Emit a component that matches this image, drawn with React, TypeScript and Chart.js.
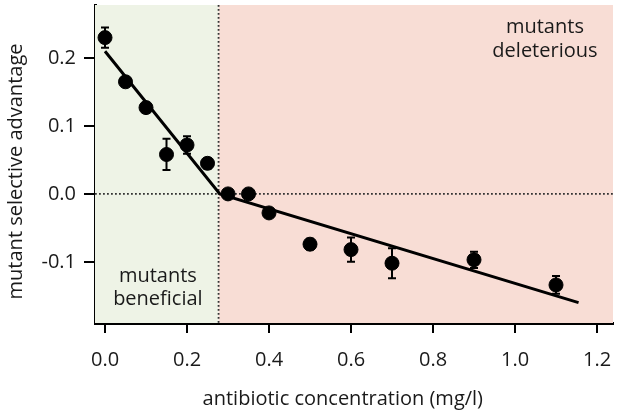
import { useEffect, useRef } from "react"
import { Chart, registerables } from "chart.js"

Chart.register(...registerables)

// measured concentrations (mg/l) and mutant selective advantage
const concentrations = [0.0, 0.05, 0.1, 0.15, 0.2, 0.25, 0.3, 0.35, 0.4, 0.5, 0.6, 0.7, 0.9, 1.1]
const advantage = [0.23, 0.165, 0.127, 0.058, 0.072, 0.045, 0.0, 0.0, -0.028, -0.074, -0.082, -0.102, -0.097, -0.134]
const errors = [0.015, 0.006, 0.004, 0.023, 0.013, 0.008, 0.004, 0.004, 0.006, 0.008, 0.018, 0.022, 0.012, 0.013]

// piecewise linear fit
const fitX = [0.0, 0.28, 1.155]
const fitY = [0.21, 0.0, -0.16]

const xTicks = [0.0, 0.2, 0.4, 0.6, 0.8, 1.0, 1.2]
const yTicks = [-0.1, 0.0, 0.1, 0.2]

const threshold = 0.277
const FONT_SIZE = 20
const FONT = `${FONT_SIZE}px 'Open Sans', sans-serif`

const regionsPlugin = {
  id: "regions",
  beforeDatasetsDraw(chart: Chart) {
    const { ctx, chartArea, scales } = chart
    const xb = scales.x.getPixelForValue(threshold)
    const y0 = scales.y.getPixelForValue(0)
    ctx.save()
    ctx.fillStyle = "#eef3e6"
    ctx.fillRect(chartArea.left, chartArea.top, xb - chartArea.left, chartArea.bottom - chartArea.top)
    ctx.fillStyle = "#f8ddd5"
    ctx.fillRect(xb, chartArea.top, chartArea.right - xb, chartArea.bottom - chartArea.top)

    ctx.strokeStyle = "#333"
    ctx.lineWidth = 1.8
    ctx.setLineDash([1.8, 2.2])
    ctx.beginPath()
    ctx.moveTo(chartArea.left, y0)
    ctx.lineTo(chartArea.right, y0)
    ctx.moveTo(xb, chartArea.top)
    ctx.lineTo(xb, chartArea.bottom)
    ctx.stroke()
    ctx.setLineDash([])

    // error bars
    ctx.strokeStyle = "#000"
    ctx.lineWidth = 2
    concentrations.forEach((c, i) => {
      const px = scales.x.getPixelForValue(c)
      const top = scales.y.getPixelForValue(advantage[i] + errors[i])
      const bot = scales.y.getPixelForValue(advantage[i] - errors[i])
      ctx.beginPath()
      ctx.moveTo(px, top)
      ctx.lineTo(px, bot)
      ctx.moveTo(px - 4, top)
      ctx.lineTo(px + 4, top)
      ctx.moveTo(px - 4, bot)
      ctx.lineTo(px + 4, bot)
      ctx.stroke()
    })
    ctx.restore()
  },
  afterDatasetsDraw(chart: Chart) {
    const { ctx, scales } = chart
    ctx.save()
    ctx.fillStyle = "#1a1a1a"
    ctx.font = FONT
    ctx.textAlign = "center"
    ctx.textBaseline = "alphabetic"
    const rx = scales.x.getPixelForValue(1.073)
    ctx.fillText("mutants", rx, 33)
    ctx.fillText("deleterious", rx, 57)
    const lx = scales.x.getPixelForValue(0.129)
    ctx.fillText("mutants", lx, 282)
    ctx.fillText("beneficial", lx, 305)
    ctx.restore()
  },
  afterDraw(chart: Chart) {
    // axis titles, placed off-centre as in the original figure
    const { ctx, scales } = chart
    ctx.save()
    ctx.fillStyle = "#1a1a1a"
    ctx.font = FONT
    ctx.textAlign = "center"
    ctx.textBaseline = "middle"
    ctx.fillText("antibiotic concentration (mg/l)", scales.x.getPixelForValue(0.58), 399)
    ctx.translate(16, scales.y.getPixelForValue(0.033))
    ctx.rotate(-Math.PI / 2)
    ctx.fillText("mutant selective advantage", 0, 0)
    ctx.restore()
  },
}

export default function App() {
  const chartRef = useRef<HTMLCanvasElement>(null)
  const chartInstance = useRef<Chart | null>(null)

  useEffect(() => {
    if (!chartRef.current) return
    if (chartInstance.current) chartInstance.current.destroy()

    Chart.defaults.font.family = "'Open Sans', sans-serif"
    Chart.defaults.color = "#1a1a1a"

    chartInstance.current = new Chart(chartRef.current, {
      type: "scatter",
      data: {
        datasets: [
          {
            label: "data",
            data: concentrations.map((c, i) => ({ x: c, y: advantage[i] })),
            backgroundColor: "#000",
            borderColor: "#000",
            pointRadius: 7,
            pointHoverRadius: 7,
            order: 0,
          },
          {
            label: "fit",
            type: "line",
            data: fitX.map((x, i) => ({ x, y: fitY[i] })),
            borderColor: "#000",
            borderWidth: 3,
            pointRadius: 0,
            fill: false,
            order: 1,
          },
        ],
      },
      options: {
        animation: false,
        responsive: false,
        layout: { autoPadding: false, padding: { top: 5, right: 4, left: 0, bottom: 0 } },
        plugins: { legend: { display: false }, tooltip: { enabled: false } },
        scales: {
          x: {
            type: "linear",
            min: -0.0244,
            max: 1.239,
            afterBuildTicks: (scale: any) => {
              scale.ticks = xTicks.map((v) => ({ value: v }))
            },
            afterFit: (scale: any) => {
              scale.height = 92
              scale.paddingLeft = 0
              scale.paddingRight = 0
            },
            ticks: {
              font: { size: FONT_SIZE },
              padding: 15,
              maxRotation: 0,
              callback: (v: any) => Number(v).toFixed(1),
            },
            grid: {
              drawOnChartArea: false,
              drawTicks: true,
              tickLength: 10,
              color: "#000",
              lineWidth: 2,
            },
            border: { display: true, color: "#000", width: 3 },
          },
          y: {
            type: "linear",
            min: -0.19,
            max: 0.278,
            afterBuildTicks: (scale: any) => {
              scale.ticks = yTicks.map((v) => ({ value: v }))
            },
            afterFit: (scale: any) => {
              scale.width = 95
              scale.paddingTop = 0
              scale.paddingBottom = 0
            },
            ticks: {
              font: { size: FONT_SIZE },
              padding: 8,
              callback: (v: any) => Number(v).toFixed(1),
            },
            grid: {
              drawOnChartArea: false,
              drawTicks: true,
              tickLength: 11,
              color: "#000",
              lineWidth: 2,
            },
            border: { display: true, color: "#000", width: 3 },
          },
        },
      },
      plugins: [regionsPlugin],
    })

    return () => {
      if (chartInstance.current) {
        chartInstance.current.destroy()
        chartInstance.current = null
      }
    }
  }, [])

  return (
    <div style={{ position: "absolute", left: 0, top: 0, width: 617, height: 415, background: "#fff" }}>
      <canvas ref={chartRef} width={617} height={415} />
    </div>
  )
}
